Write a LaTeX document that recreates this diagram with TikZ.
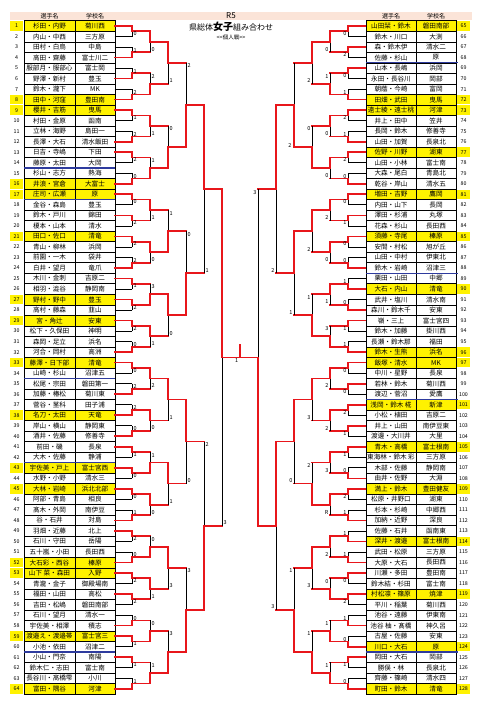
\documentclass[tikz,border=0pt]{standalone}
\usepackage{fontspec}
\usepackage{graphicx}
\setmainfont{Noto Sans CJK JP}
\usetikzlibrary{positioning}
\definecolor{headband}{HTML}{FBE4D8}
\definecolor{sepblue}{HTML}{2E3B9E}
\definecolor{winred}{HTML}{E8161B}
\newcommand\fitbox[2]{\resizebox{\ifdim\width>#1\relax#1\else\width\fi}{!}{#2}}
\tikzset{
  cell/.style={draw, line width=0.5pt, minimum height=10.52pt, inner sep=0pt, font=\fontsize{6.6}{7}\selectfont},
  playercell/.style={cell, minimum width=51pt},
  schoolcell/.style={cell, minimum width=40pt},
  numlabel/.style={inner sep=0pt, font=\fontsize{5.3}{6}\selectfont},
  seedmark/.style={fill=yellow, minimum width=13pt, minimum height=9.5pt, inner sep=0pt},
  scorelabel/.style={inner sep=0.6pt, font=\fontsize{5.5}{6}\selectfont},
  lostline/.style={line width=0.7pt},
  wonline/.style={line width=1.7pt, winred, line cap=rect},
  sepline/.style={line width=1.3pt, sepblue},
  headtext/.style={inner sep=0pt, font=\fontsize{6}{7}\selectfont}
}
% one round of one half: #1 round, #2 side (1 left, -1 right), #3 winner/score list
\newcommand\drawround[3]{%
  \foreach \w/\s [count=\m] in {#3}{%
    \pgfmathsetmacro\hh{2^(#1-1)}%
    \pgfmathsetmacro\rowa{(\m-1)*2*\hh+1}%
    \pgfmathsetmacro\ytop{26+(\rowa+\hh/2-1.5)*10.52}%
    \pgfmathsetmacro\ybot{\ytop+\hh*10.52}%
    \pgfmathsetmacro\ymid{(\ytop+\ybot)/2}%
    \pgfmathsetmacro\xv{240-#2*(108-(#1-1)*18)}%
    \pgfmathsetmacro\xn{240-#2*(108-#1*18)}%
    \pgfmathsetmacro\xe{240-#2*125.5}%
    \ifnum\w=0 \let\yw\ytop\let\yl\ybot\pgfmathsetmacro\ys{\ybot-3}%
    \else \let\yw\ybot\let\yl\ytop\pgfmathsetmacro\ys{\ytop+3}\fi
    \ifnum#1=1 \draw[lostline] (\xe,\yl) -- (\xv,\yl); \fi
    \draw[lostline] (\xv,\yl) -- (\xv,\ymid);
    \ifnum#1=1 \draw[wonline] (\xe,\yw) -- (\xv,\yw) -- (\xv,\ymid) -- (\xn,\ymid);
    \else \draw[wonline] (\xv,\yw) -- (\xv,\ymid) -- (\xn,\ymid); \fi
    \ifnum#2=1 \node[scorelabel, anchor=west] at (\xv+0.8,\ys) {\s};
    \else \node[scorelabel, anchor=east] at (\xv-0.8,\ys) {\s}; \fi
  }%
}

\begin{document}
\begin{tikzpicture}[x=1pt, y=-1pt]
  \useasboundingbox (0,0) rectangle (480,701);
  \fill[white] (0,0) rectangle (480,701);

  % heading
  \fill[headband] (10,12) rectangle (472,20.5);
  \node[font=\fontsize{8}{9}\selectfont, inner sep=0pt] (roundtag) at (231,16) {R5};
  \node[font=\fontsize{8}{9}\selectfont, inner sep=0pt] (title) at (231,27)
    {県総体{\fontsize{10}{10}\selectfont\bfseries 女子}組み合わせ};
  \node[font=\fontsize{5.5}{6}\selectfont, inner sep=0pt, below=2.5pt of title] (subtitle) {{<}{<}個人戦{>}{>}};
  \node[headtext] (lhplayer) at (49.5,16) {選手名};
  \node[headtext] (lhschool) at (95,16) {学校名};
  \node[headtext] (rhplayer) at (391,16) {選手名};
  \node[headtext] (rhschool) at (436,16) {学校名};

  % left table
  \foreach \n/\pl/\sc/\hl in {
    1/杉田・内野/菊川西/1, 2/内山・中西/三方原/0, 3/田村・白鳥/中島/0, 4/高田・齋藤/富士川二/0,
    5/服部月・服部心/富士岡/0, 6/野澤・新村/豊玉/0, 7/鈴木・瀧下/MK/0, 8/田中・河窪/豊田南/1,
    9/櫻井・吉筋/曳馬/1, 10/村田・金原/函南/0, 11/立林・海野/島田一/0, 12/長澤・大石/清水飯田/0,
    13/日吉・寺嶋/下田/0, 14/藤原・太田/大岡/0, 15/杉山・志方/熱海/0, 16/井浪・宮倉/大富士/1,
    17/庄司・広瀬/原/1, 18/金谷・森島/豊玉/0, 19/鈴木・戸川/錦田/0, 20/榎本・山本/清水/0,
    21/田口・佐口/清竜/1, 22/青山・柳林/浜岡/0, 23/前園・一木/袋井/0, 24/白井・望月/竜爪/0,
    25/木川・金刺/吉原二/0, 26/相羽・澁谷/静岡南/0, 27/野村・野中/豊玉/1, 28/高村・藤森/韮山/0,
    29/宮・角辻/安東/1, 30/松下・久保田/神明/0, 31/森岡・足立/浜名/0, 32/河合・岡村/高洲/0,
    33/藤澤・日下部/清竜/1, 34/山崎・杉山/沼津五/0, 35/松尾・宗田/磐田第一/0, 36/加藤・椿松/菊川東/0,
    37/菅谷・茎科/田子浦/0, 38/名刀・太田/天竜/1, 39/岸山・横山/静岡東/0, 40/酒井・佐藤/修善寺/0,
    41/前田・磯/長泉/0, 42/大木・佐藤/静浦/0, 43/宇佐美・戸上/富士宮西/1, 44/水野・小野/清水三/0,
    45/大林・岩崎/浜北北部/1, 46/阿部・青島/相良/0, 47/髙木・外岡/南伊豆/0, 48/谷・石井/対島/0,
    49/羽畑・近藤/北上/0, 50/石川・守田/岳陽/0, 51/五十嵐・小田/長田西/0, 52/大石彩・西谷/榛原/1,
    53/山下 菜・森田/入野/1, 54/青瀧・金子/御殿場南/0, 55/福田・山田/高松/0, 56/吉田・松嶋/磐田南部/0,
    57/石川・望月/清水一/0, 58/宇佐美・相澤/積志/0, 59/渡邉え・渡邉帯/富士宮三/1, 60/小池・依田/沼津二/0,
    61/小山・門奈/南陽/0, 62/鈴木仁・志田/富士南/0, 63/長谷川・髙橋雫/小川/0, 64/富田・隅谷/河津/1}{
    \pgfmathsetmacro\yy{26+(\n-1)*10.52}
    \ifnum\hl=1 \def\cf{yellow}\node[seedmark] at (16.5,\yy) {};\else\def\cf{white}\fi
    \node[numlabel] (ln\n) at (16.5,\yy) {\n};
    \node[playercell, fill=\cf] (lp\n) at (49.5,\yy) {\fitbox{49pt}{\pl}};
    \node[schoolcell, fill=\cf] (ls\n) at (95,\yy) {\fitbox{38pt}{\sc}};
  }

  % right table
  \foreach \n/\pl/\sc/\hl in {
    65/山田栞・鈴木/磐田南部/1, 66/鈴木・川口/大渕/0, 67/森・鈴木伊/清水二/0, 68/佐藤・杉山/原/0,
    69/山本・長嶋/浜岡/0, 70/永田・長谷川/岡部/0, 71/朝蔭・今崎/富岡/0, 72/田畑・武田/曳馬/1,
    73/遠士綾・遠士桃/河津/1, 74/井上・田中/笠井/0, 75/長岡・鈴木/修善寺/0, 76/山田・加賀/長泉北/0,
    77/佐野・川野/湖東/1, 78/山田・小林/富士南/0, 79/大森・尾白/青島北/0, 80/乾谷・岸山/清水五/0,
    81/増田・吉野/鷹岡/1, 82/内田・山下/長岡/0, 83/澤田・杉浦/丸塚/0, 84/花森・杉山/長田西/0,
    85/須藤・寺尾/榛原/1, 86/安間・村松/旭が丘/0, 87/山田・中村/伊東北/0, 88/鈴木・岩崎/沼津三/0,
    89/栗田・山田/中郷/0, 90/大石・内山/清竜/1, 91/武井・塩川/清水南/0, 92/森川・鈴木千/安東/0,
    93/嶺・三上/富士宮四/0, 94/鈴木・加藤/掛川西/0, 95/長瀬・鈴木那/福田/0, 96/鈴木・生熊/浜名/1,
    97/飯塚・清水/MK/1, 98/中川・星野/長泉/0, 99/若林・鈴木/菊川西/0, 100/渡辺・菅沼/愛鷹/0,
    101/浅岡・鈴木 椛/新津/1, 102/小松・植田/吉原二/0, 103/井上・山田/南伊豆東/0, 104/渡邊・大川井/大里/0,
    105/青木・高橋/富士根南/1, 106/東海林・鈴木 彩/三方原/0, 107/木部・佐藤/静岡南/0, 108/由井・佐野/大淵/0,
    109/満上・鈴木/豊田健友/1, 110/松原・井野口/湖東/0, 111/杉本・杉崎/中郷西/0, 112/加納・近野/深良/0,
    113/佐藤・石井/函南東/0, 114/深井・渡邉/富士根南/1, 115/武田・松原/三方原/0, 116/大原・大石/長田西/0,
    117/川瀬・多田/豊田南/0, 118/鈴木結・杉田/富士南/0, 119/村松凛・篠原/焼津/1, 120/平川・稲葉/菊川西/0,
    121/池谷・遠藤/伊東南/0, 122/池谷 柚・髙橋/神久呂/0, 123/古屋・佐藤/安東/0, 124/川口・大石/原/1,
    125/岡田・大石/岡部/0, 126/勝俣・林/長泉北/0, 127/齊藤・篠崎/清水四/0, 128/町田・鈴木/清竜/1}{
    \pgfmathsetmacro\yy{26+(\n-65)*10.52}
    \ifnum\hl=1 \def\cf{yellow}\node[seedmark] at (463.5,\yy) {};\else\def\cf{white}\fi
    \node[numlabel] (rn\n) at (463.5,\yy) {\n};
    \node[playercell, minimum width=50pt, fill=\cf] (rp\n) at (391,\yy) {\fitbox{48pt}{\pl}};
    \node[schoolcell, fill=\cf] (rs\n) at (436,\yy) {\fitbox{38pt}{\sc}};
  }

  % block separators
  \foreach \k in {14,17,34,42,60}
    \draw[sepline] (24,{26+(\k-0.5)*10.52}) -- (115,{26+(\k-0.5)*10.52});
  \foreach \k in {4,24,36,60}
    \draw[sepline] (366,{26+(\k-0.5)*10.52}) -- (458,{26+(\k-0.5)*10.52});

  % left bracket
  \drawround{1}{1}{0/0,1/1,1/1,1/2,0/1,1/2,0/2,1/0,0/0,0/2,0/2,1/2,0/1,0/2,0/2,1/0,
                   0/0,1/2,1/2,1/0,0/1,0/0,0/0,1/1,0/2,1/0,0/2,0/2,1/0,0/1,0/1,1/1}
  \drawround{2}{1}{0/0,1/2,0/1,1/1,0/1,0/0,1/3,0/1,0/2,0/0,1/1,0/0,1/0,0/1,1/0,1/1}
  \drawround{3}{1}{0/1,1/0,1/1,0/0,0/1,0/1,0/3,1/3}
  \drawround{4}{1}{1/2,1/0,0/0,1/3}
  \drawround{5}{1}{0/1,1/2}
  \drawround{6}{1}{0/3}

  % right bracket
  \drawround{1}{-1}{0/0,0/2,0/0,1/1,0/2,1/1,0/2,1/0,0/0,0/1,0/0,1/0,1/1,1/0,0/1,1/1,
                    0/0,0/0,0/2,0/1,0/1,1/0,0/2,1/1,1/1,1/1,0/0,0/2,1/1,1/0,0/1,1/0}
  \drawround{2}{-1}{0/0,1/1,0/0,0/0,0/2,0/0,0/1,1/3,0/2,0/2,0/3,0/R,0/2,1/0,1/1,1/1}
  \drawround{3}{-1}{0/2,1/0,0/2,1/1,0/3,1/2,0/3,1/1}
  \drawround{4}{-1}{1/,0/1,0/0,1/1}
  \node[scorelabel, anchor=east] (r4score) at (292.2,146) {2};
  \drawround{5}{-1}{0/2,0/3}
  \drawround{6}{-1}{1/3}

  % final
  \coordinate (champ) at (240,345);
  \draw[wonline] (240,357.5) -- (champ);
  \node[scorelabel, anchor=east] (finalscore) at (239,361) {1};
\end{tikzpicture}
\end{document}
